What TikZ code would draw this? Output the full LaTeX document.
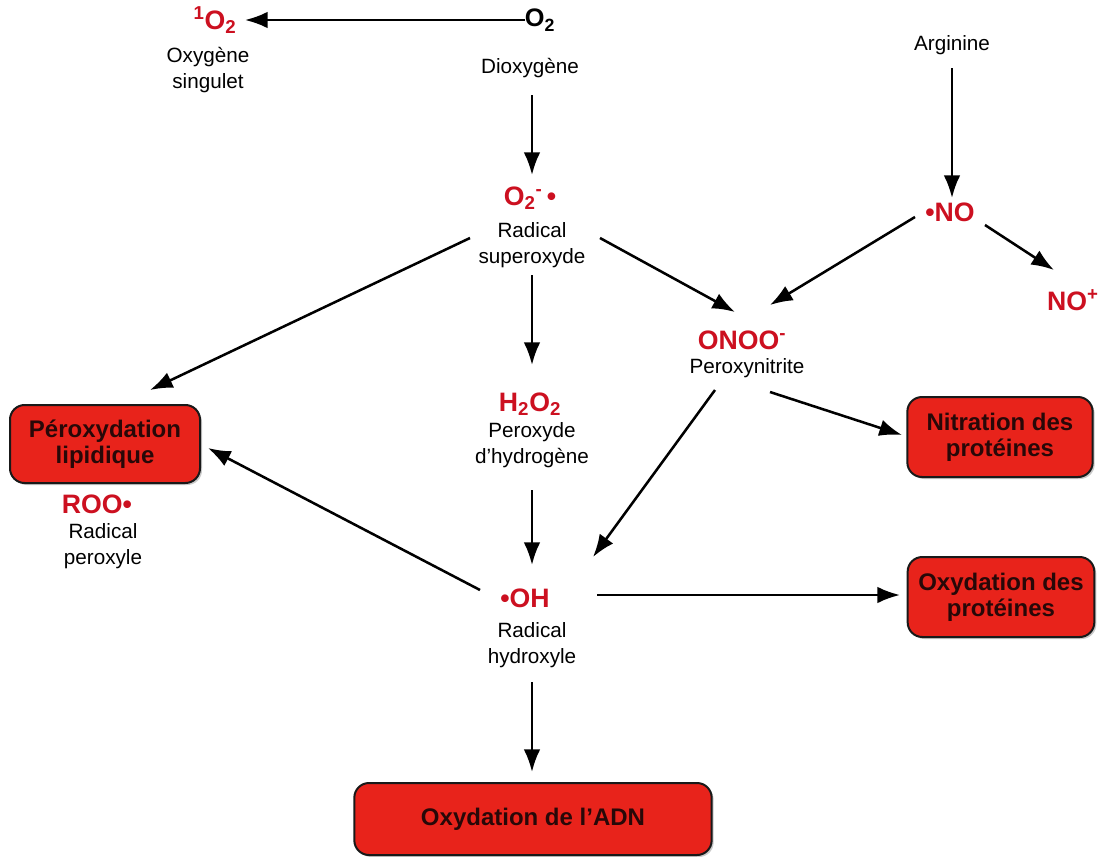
\documentclass[tikz,border=0pt]{standalone}
\usepackage{fontspec}
\setmainfont{Liberation Sans}
\usetikzlibrary{arrows.meta,shadows}
\definecolor{chemred}{RGB}{204,16,32}
\definecolor{boxred}{RGB}{232,35,27}
\definecolor{boxtext}{RGB}{40,8,8}
\begin{document}
\begin{tikzpicture}[x=0.75pt,y=-0.75pt,
  arr/.style={line width=1.9pt,-{Latex[length=17pt,width=12.5pt]}},
  chem/.style={text=chemred,font=\fontsize{20}{22}\selectfont\bfseries,inner sep=0pt},
  chemk/.style={text=black,font=\fontsize{19}{22}\selectfont\bfseries,inner sep=0pt},
  desc/.style={text=black,font=\fontsize{15.5}{19}\selectfont,align=center,inner sep=0pt},
  effect/.style={draw=black!90,line width=1.5pt,fill=boxred,rounded corners=11pt,
    text=boxtext,font=\fontsize{18}{19.5}\selectfont\bfseries,align=center,
    minimum width=#1,inner sep=0pt,
    drop shadow={shadow xshift=1.5pt,shadow yshift=-1.5pt,fill=black!35,opacity=0.6}}
]
\useasboundingbox (0,0) rectangle (1101,857);

% species
\node[chem] (singO) at (215,20) {\textsuperscript{1}O\textsubscript{2}};
\node[desc] (singD) at (208,70) {Oxygène\\singulet};
\node[chemk] (dioxO) at (540,20) {O\textsubscript{2}};
\node[desc] (dioxD) at (530,68) {Dioxygène};
\node[chem] (supO) at (530,198) {O\textsubscript{2}\textsuperscript{-}\,•};
\node[desc] (supD) at (532,245) {Radical\\superoxyde};
\node[desc] (arg) at (952,45) {Arginine};
\node[chem] (no) at (950,212) {•NO};
\node[chem,anchor=east] (nop) at (1099,300) {NO\textsuperscript{+}};
\node[chem] (onoo) at (742,340) {ONOO\textsuperscript{-}};
\node[desc] (onooD) at (747,368) {Peroxynitrite};
\node[chem] (h2o2) at (530,404) {H\textsubscript{2}O\textsubscript{2}};
\node[desc] (h2o2D) at (532,445) {Peroxyde\\d’hydrogène};
\node[chem] (oh) at (525,598) {•OH};
\node[desc] (ohD) at (532,645) {Radical\\hydroxyle};
\node[chem] (roo) at (97,504) {ROO•};
\node[desc] (rooD) at (103,546) {Radical\\peroxyle};

% effect boxes (sizes in pt = px*0.75)
\node[effect=142.5pt,minimum height=58.5pt] (perox) at (105,444) {Péroxydation\\lipidique};
\node[effect=139pt,minimum height=60pt] (nitr) at (1000,437) {Nitration des\\protéines};
\node[effect=140pt,minimum height=60pt] (oxprot) at (1001,597) {Oxydation des\\protéines};
\node[effect=268pt,minimum height=54pt] (adn) at (533,819) {Oxydation de l’ADN};

% connectors
\draw[arr] ([shift={(-15,0)}]dioxO.center) -- ([shift={(30,0)}]singO.center);
\draw[arr] ([shift={(2,27)}]dioxD.center) -- ([shift={(2,-23)}]supO.center);
\draw[arr] ([shift={(-62,-7)}]supD.center) -- ([shift={(45,-54)}]perox.center);
\draw[arr] ([shift={(68,-7)}]supD.center) -- ([shift={(-7,-28)}]onoo.center);
\draw[arr] ([shift={(0,30)}]supD.center) -- ([shift={(2,-39)}]h2o2.center);
\draw[arr] ([shift={(0,23)}]arg.center) -- ([shift={(2,-14)}]no.center);
\draw[arr] ([shift={(-35,5)}]no.center) -- ([shift={(28,-35)}]onoo.center);
\draw[arr] ([shift={(35,13)}]no.center) -- ([shift={(-19,-30)}]nop.center);
\draw[arr] ([shift={(23,24)}]onooD.center) -- ([shift={(-98,-2)}]nitr.center);
\draw[arr] ([shift={(-32,22)}]onooD.center) -- ([shift={(68,-41)}]oh.center);
\draw[arr] ([shift={(0,45)}]h2o2D.center) -- ([shift={(7,-33)}]oh.center);
\draw[arr] ([shift={(-45,-8)}]oh.center) -- ([shift={(103,4)}]perox.center);
\draw[arr] ([shift={(72,-3)}]oh.center) -- ([shift={(-101,-2)}]oxprot.center);
\draw[arr] ([shift={(0,37)}]ohD.center) -- ([shift={(-1,-47)}]adn.center);
\end{tikzpicture}
\end{document}
